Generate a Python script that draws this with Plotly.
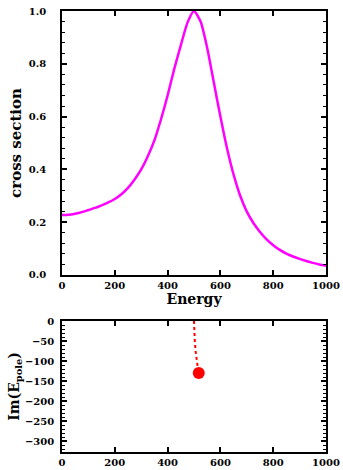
import plotly.graph_objects as go

# ---- data ----
energy = [0, 25, 50, 75, 100, 125, 150, 175, 200, 225, 250, 275, 300, 325,
          350, 375, 400, 425, 450, 475, 500, 525, 550, 575, 600, 625, 650,
          675, 700, 725, 750, 775, 800, 825, 850, 875, 900, 925, 950, 975,
          1000]
cross_section = [0.227, 0.228, 0.232, 0.238, 0.246, 0.254, 0.264, 0.275,
                 0.288, 0.306, 0.330, 0.362, 0.400, 0.450, 0.510, 0.590,
                 0.680, 0.780, 0.870, 0.955, 1.000, 0.960, 0.860, 0.730,
                 0.600, 0.480, 0.380, 0.300, 0.240, 0.197, 0.163, 0.135,
                 0.113, 0.095, 0.081, 0.070, 0.061, 0.053, 0.046, 0.040,
                 0.035]

pole_re = [500, 501, 503, 506, 510, 514, 518]
pole_im = [0, -25, -50, -75, -100, -115, -130]

x_ticks = [0, 200, 400, 600, 800, 1000]
y1_ticks = [0.0, 0.2, 0.4, 0.6, 0.8, 1.0]
y1_labels = ["0.0", "0.2", "0.4", "0.6", "0.8", "1.0"]
y2_ticks = [0, -50, -100, -150, -200, -250, -300]

FONT = "DejaVu Serif"
tickfont = dict(family=FONT, size=10, color="black")
titlefont = dict(family=FONT, size=14, color="black")


def bold(vals):
    return ["<b>%s</b>" % str(v).replace("-", "\u2212") for v in vals]


fig = go.Figure()
fig.add_trace(go.Scatter(x=energy, y=cross_section, mode="lines",
                         line=dict(color="#ff00ff", width=2.5, shape="spline",
                                   smoothing=0.6),
                         xaxis="x", yaxis="y", showlegend=False))
fig.add_trace(go.Scatter(x=pole_re, y=pole_im, mode="lines",
                         line=dict(color="#ff0000", width=2, dash="dot"),
                         xaxis="x2", yaxis="y2", showlegend=False))
fig.add_trace(go.Scatter(x=[pole_re[-1]], y=[pole_im[-1]], mode="markers",
                         marker=dict(color="#ff0000", size=12),
                         xaxis="x2", yaxis="y2", showlegend=False))

base = dict(showline=True, linecolor="#000000", linewidth=1.5,
            showgrid=False, zeroline=False, tickfont=tickfont,
            ticks="inside", ticklen=5, tickwidth=1.5, tickcolor="black",
            mirror="allticks", automargin=False)

fig.update_layout(
    width=343, height=470,
    margin=dict(l=62, r=17, t=11, b=18),
    paper_bgcolor="white", plot_bgcolor="white",
    xaxis=dict(domain=[0, 1], anchor="y", range=[0, 1000],
               tickvals=x_ticks, ticktext=bold(x_ticks),
               title=dict(text="<b>Energy</b>", font=titlefont, standoff=2),
               **base),
    yaxis=dict(domain=[0.4014, 1.0], anchor="x", range=[0, 1.0],
               tickvals=y1_ticks, ticktext=bold(y1_labels),
               ticklabelstandoff=12,
               minor=dict(dtick=0.04, ticks="inside", ticklen=3,
                          tickcolor="black", tickwidth=1.2),
               title=dict(text="<b>cross section</b>",
                          font=dict(family=FONT, size=15, color="black"),
                          standoff=4),
               **base),
    xaxis2=dict(domain=[0, 1], anchor="y2", range=[0, 1000],
                tickvals=x_ticks, ticktext=bold(x_ticks),
                **base),
    yaxis2=dict(domain=[0, 0.297], anchor="x2", range=[-327.5, 0],
                tickvals=y2_ticks, ticktext=bold(y2_ticks),
                ticklabelstandoff=4,
                minor=dict(dtick=10, ticks="inside", ticklen=3,
                           tickcolor="black", tickwidth=1),
                title=dict(text="<b>Im(E<sub>pole</sub>)</b>", font=titlefont,
                           standoff=2),
                **base),
)

post = (
    "document.body.style.margin='0';"
    "document.body.style.padding='0';"
    "var gd=document.getElementById('{plot_id}');"
    "Plotly.relayout(gd,{'margin.l':61}).then(function(){"
    "return Plotly.relayout(gd,{'margin.l':62});});"
)

fig.write_html("out.html",
               config=dict(displayModeBar=False),
               post_script=post)
